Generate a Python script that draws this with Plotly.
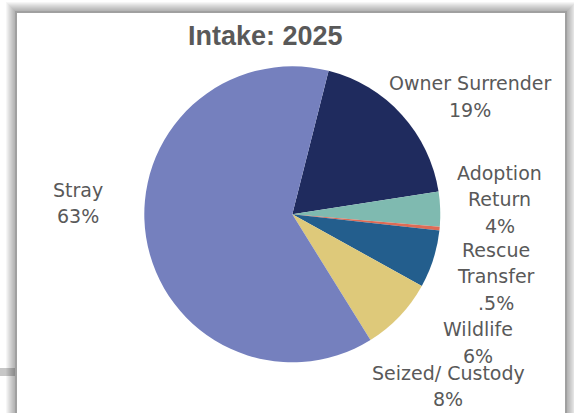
import plotly.graph_objects as go

# ---- data ----
categories = ["Owner Surrender", "Adoption<br>Return", "Rescue<br>Transfer", "Wildlife", "Seized/ Custody", "Stray"]
values = [18.6, 3.8, 0.4, 6.3, 8.1, 62.8]
pct_labels = ["19%", "4%", ".5%", "6%", "8%", "63%"]
colors = ["#1F2B5E", "#7FBAB0", "#DD6B55", "#235E8D", "#DEC97A", "#7580BE"]
title_text = "Intake: 2025"

W, H = 574, 413
def px(x):
    return x / W
def py(y):
    return 1 - y / H

# label block centres (pixels)
label_pos = [(470, 96.5), (500, 199), (495.5, 276), (478, 342.5), (448, 386), (77.5, 203)]
LINE = 26.5
TXT = "#595959"
FONT = "DejaVu Sans"

cx, cy, r = 292.3, 214.3, 148

fig = go.Figure(go.Pie(
    labels=[c.replace("<br>", " ") for c in categories],
    values=values,
    sort=False,
    direction="clockwise",
    rotation=14.2,
    marker=dict(colors=colors, line=dict(width=0)),
    textinfo="none",
    hoverinfo="skip",
    showlegend=False,
    domain=dict(x=[px(cx - r), px(cx + r)], y=[py(cy + r), py(cy - r)]),
))

shapes = []
# soft shadow around the panel
for i in range(10, 0, -1):
    shapes.append(dict(type="rect", xref="paper", yref="paper",
                       x0=px(16 - i), x1=px(566 + i), y0=py(440), y1=py(12 - i),
                       fillcolor="rgba(0,0,0,0.035)", line=dict(width=0), layer="below"))
# darker rim right next to the panel
shapes.append(dict(type="rect", xref="paper", yref="paper",
                   x0=px(15), x1=px(567), y0=py(440), y1=py(11),
                   fillcolor="rgba(0,0,0,0.08)", line=dict(width=0), layer="below"))
# band at bottom left
shapes.append(dict(type="rect", xref="paper", yref="paper",
                   x0=px(0), x1=px(15), y0=py(376), y1=py(368),
                   fillcolor="rgba(0,0,0,0.22)", line=dict(width=0), layer="below"))
# white panel
shapes.append(dict(type="rect", xref="paper", yref="paper",
                   x0=px(17), x1=px(565), y0=py(440), y1=py(13),
                   fillcolor="white", line=dict(width=0), layer="below"))

annotations = [dict(text="<b>" + title_text + "</b>", x=px(265), y=py(36), xref="paper", yref="paper",
                    xanchor="center", yanchor="middle", showarrow=False,
                    font=dict(family="Liberation Sans, Arial", size=27, color=TXT))]
for cat, pct, (lx, ly) in zip(categories, pct_labels, label_pos):
    lines = cat.split("<br>") + [pct]
    n = len(lines)
    for i, ln in enumerate(lines):
        yy = ly + (i - (n - 1) / 2) * LINE
        annotations.append(dict(text=ln, x=px(lx), y=py(yy), xref="paper", yref="paper",
                                xanchor="center", yanchor="middle", showarrow=False,
                                font=dict(family=FONT, size=19, color=TXT)))

fig.update_layout(
    width=W, height=H,
    margin=dict(l=0, r=0, t=0, b=0),
    paper_bgcolor="white",
    plot_bgcolor="white",
    shapes=shapes,
    annotations=annotations,
)

fig.write_html("out.html",
               config={"displayModeBar": False},
               post_script="document.body.style.margin='0';document.body.style.overflow='hidden';")
